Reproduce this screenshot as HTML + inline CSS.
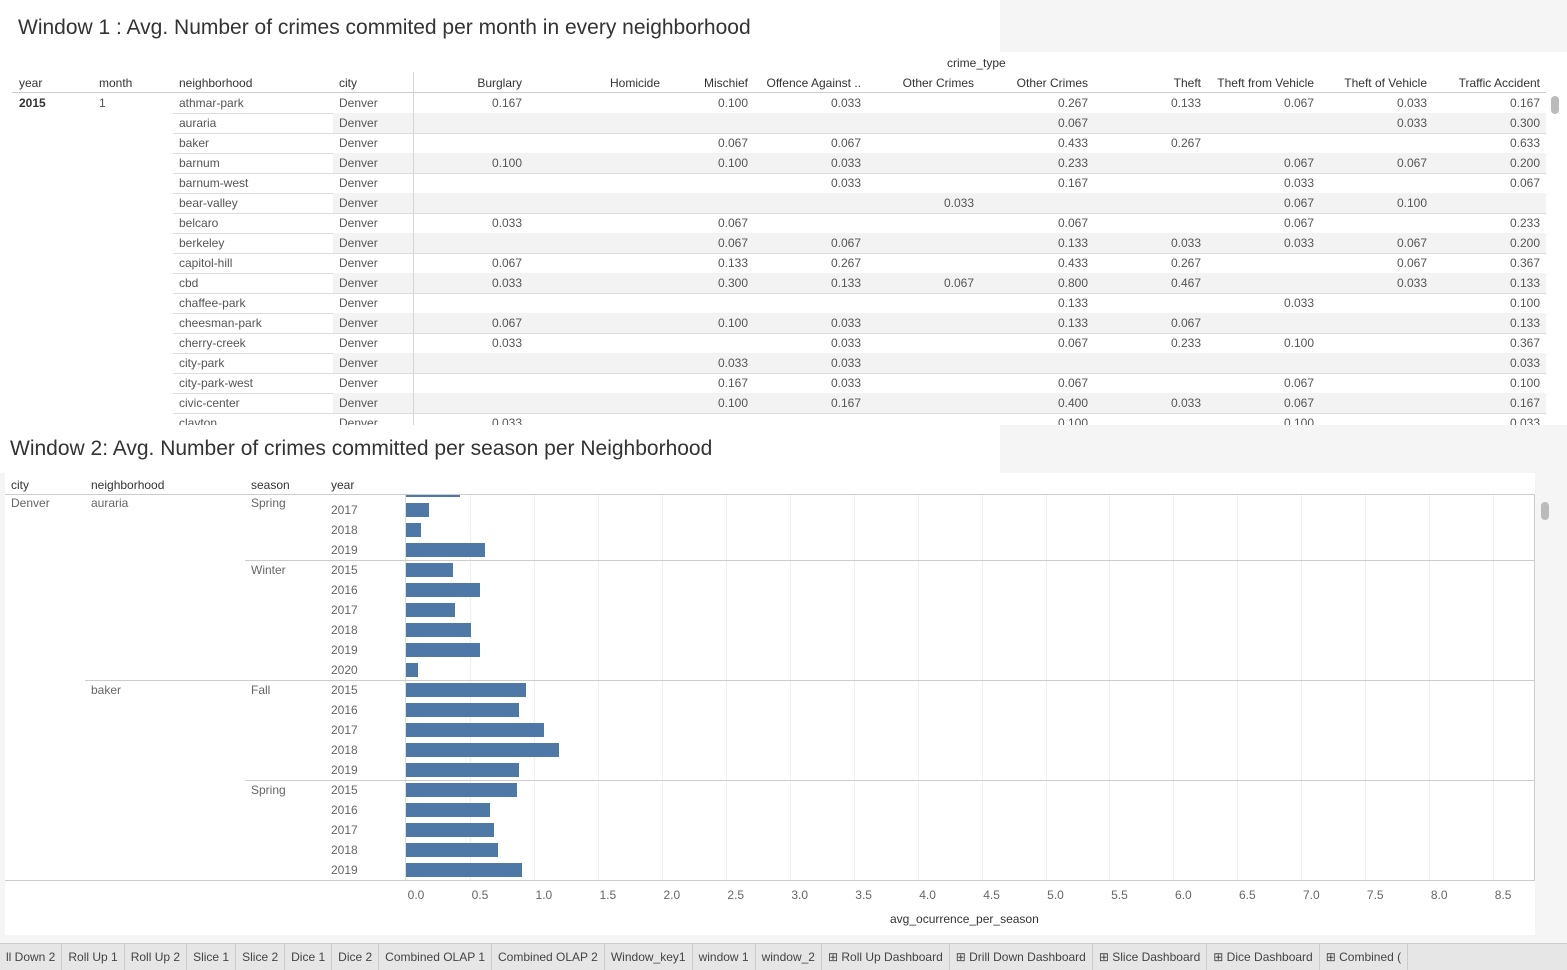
<!DOCTYPE html>
<html><head><meta charset="utf-8">
<style>
*{margin:0;padding:0;box-sizing:border-box}
body{width:1567px;height:970px;overflow:hidden;background:#f5f5f5;font-family:"Liberation Sans",sans-serif;position:relative;color:#555}
.a{position:absolute;white-space:nowrap}
.t{font-size:12px}
.h{color:#333;font-size:12px}
</style></head><body>
<div class="a" style="left:0;top:0;width:1000px;height:52px;background:#fff"></div>
<div class="a" style="left:0;top:52px;width:1567px;height:373px;background:#fff"></div>
<div class="a" style="left:18px;top:16px;font-size:21px;color:#333">Window 1 : Avg. Number of crimes commited per month in every neighborhood</div>
<div class="a" style="left:0;top:425px;width:1000px;height:48px;background:#fff"></div>
<div class="a" style="left:5px;top:473px;width:1530px;height:462px;background:#fff"></div>
<div class="a" style="left:10px;top:437px;font-size:21px;color:#333">Window 2: Avg. Number of crimes committed per season per Neighborhood</div>
<div id="tbl" class="a" style="left:0;top:0;width:1567px;height:425px;overflow:hidden"></div>
<div id="chart" class="a" style="left:0;top:0;width:1567px;height:940px"></div>
<div id="tabs" class="a" style="left:0;top:943px;width:1567px;height:27px;background:#e6e6e6;border-top:1px solid #ccc"></div>
<script>
const cols=["Burglary","Homicide","Mischief","Offence Against ..","Other  Crimes","Other Crimes","Theft","Theft from Vehicle","Theft of Vehicle","Traffic Accident"];
const hoods=["athmar-park","auraria","baker","barnum","barnum-west","bear-valley","belcaro","berkeley","capitol-hill","cbd","chaffee-park","cheesman-park","cherry-creek","city-park","city-park-west","civic-center","clayton"];
const vals=[
[.167,null,.100,.033,null,.267,.133,.067,.033,.167],
[null,null,null,null,null,.067,null,null,.033,.300],
[null,null,.067,.067,null,.433,.267,null,null,.633],
[.100,null,.100,.033,null,.233,null,.067,.067,.200],
[null,null,null,.033,null,.167,null,.033,null,.067],
[null,null,null,null,.033,null,null,.067,.100,null],
[.033,null,.067,null,null,.067,null,.067,null,.233],
[null,null,.067,.067,null,.133,.033,.033,.067,.200],
[.067,null,.133,.267,null,.433,.267,null,.067,.367],
[.033,null,.300,.133,.067,.800,.467,null,.033,.133],
[null,null,null,null,null,.133,null,.033,null,.100],
[.067,null,.100,.033,null,.133,.067,null,null,.133],
[.033,null,null,.033,null,.067,.233,.100,null,.367],
[null,null,.033,.033,null,null,null,null,null,.033],
[null,null,.167,.033,null,.067,null,.067,null,.100],
[null,null,.100,.167,null,.400,.033,.067,null,.167],
[.033,null,null,null,null,.100,null,.100,null,.033]];
const seasonYears=[["Spring","2016"],["Spring","2017"],["Spring","2018"],["Spring","2019"],["Winter","2015"],["Winter","2016"],["Winter","2017"],["Winter","2018"],["Winter","2019"],["Winter","2020"],["Fall","2015"],["Fall","2016"],["Fall","2017"],["Fall","2018"],["Fall","2019"],["Spring","2015"],["Spring","2016"],["Spring","2017"],["Spring","2018"],["Spring","2019"]];
const barHoods=["auraria","auraria","auraria","auraria","auraria","auraria","auraria","auraria","auraria","auraria","baker","baker","baker","baker","baker","baker","baker","baker","baker","baker"];
const barVals=[0.42,0.18,0.12,0.62,0.37,0.58,0.38,0.51,0.58,0.09,0.94,0.88,1.08,1.2,0.88,0.87,0.66,0.69,0.72,0.91];
const ticks=["0.0","0.5","1.0","1.5","2.0","2.5","3.0","3.5","4.0","4.5","5.0","5.5","6.0","6.5","7.0","7.5","8.0","8.5"];
const tabNames=["ll Down 2","Roll Up 1","Roll Up 2","Slice 1","Slice 2","Dice 1","Dice 2","Combined OLAP 1","Combined OLAP 2","Window_key1","window 1","window_2","⊞ Roll Up Dashboard","⊞ Drill Down Dashboard","⊞ Slice Dashboard","⊞ Dice Dashboard","⊞ Combined ("];

function mk(p,cls,style,txt){const d=document.createElement('div');d.className='a '+cls;d.style.cssText=style;if(txt!=null)d.textContent=txt;p.appendChild(d);return d;}
const T=document.getElementById('tbl');
const colR=[522,635,748,861,974,1088,1201,1314,1427,1540];
const rowY=r=>93+r*20;
let e;
e=mk(T,'h','left:947px;top:56px','crime_type');


[["year",19],["month",99],["neighborhood",179],["city",339]].forEach(([n,x])=>{e=mk(T,'h','left:'+x+'px;top:76px',n);

});
mk(T,'','left:12px;top:92px;width:1534px;height:1px;background:#ccc');
hoods.forEach((h,r)=>{
  const y=rowY(r);
  if(r%2==1)mk(T,'','left:333px;top:'+y+'px;width:1213px;height:20px;background:#f3f3f3');
  mk(T,'','left:173px;top:'+(y+20)+'px;width:1373px;height:1px;background:#ddd');
  e=mk(T,'t','left:179px;top:'+(y+3)+'px',h);
  
  
  mk(T,'t','left:339px;top:'+(y+3)+'px','Denver');
  vals[r].forEach((v,c)=>{if(v==null)return;
    e=mk(T,'t','left:'+(colR[c]-60)+'px;width:60px;text-align:right;top:'+(y+3)+'px',v.toFixed(3));
    
    });
});
mk(T,'','left:413px;top:72px;width:1px;height:353px;background:#d4d4d4');
mk(T,'t','left:19px;top:96px;color:#333;font-weight:bold;font-size:12px','2015');
mk(T,'t','left:99px;top:96px','1');
cols.forEach((n,c)=>{const w=c==1?200:140;const st=c==1?'left:'+(635-100)+'px;width:200px;text-align:center':'left:'+(colR[c]-w)+'px;width:'+w+'px;text-align:right';
  e=mk(T,'h',st+';top:76px',n);
  
  });
mk(T,'','left:1551px;top:96px;width:8px;height:18px;border-radius:4px;background:#bbb');
const C=document.getElementById('chart');
const x0=406,sc=127.9;const xs=v=>x0+v*sc;
[["city",11],["neighborhood",91],["season",251],["year",331]].forEach(([n,x])=>{e=mk(C,'h','left:'+x+'px;top:478px',n);

});
const clip=mk(C,'','left:0;top:494px;width:1567px;height:386px;overflow:hidden');
ticks.forEach((t,i)=>{const x=xs(parseFloat(t));
  if(i>0)mk(clip,'','left:'+x+'px;top:0;width:1px;height:386px;background:#efefef');
  e=mk(C,'t','left:'+(x+10-20)+'px;width:40px;text-align:center;top:888px;color:#666',t);
  
  });
mk(clip,'','left:405px;top:0;width:1px;height:386px;background:#ddd');
mk(C,'','left:5px;top:494px;width:1530px;height:1px;background:#ccc');
mk(C,'','left:5px;top:880px;width:1530px;height:1px;background:#ccc');
mk(C,'','left:1534px;top:494px;width:1px;height:386px;background:#ccc');
barVals.forEach((v,i)=>{const cy=490+i*20-494;
  e=mk(clip,'','left:'+x0+'px;top:'+(cy-7)+'px;width:'+(xs(v)-x0)+'px;height:14px;background:#4e79a7');
  
  
  mk(clip,'t','left:331px;top:'+(cy-7)+'px;color:#666',seasonYears[i][1]);
  if(i>0&&(seasonYears[i][0]!=seasonYears[i-1][0]||barHoods[i]!=barHoods[i-1])){
    const l=barHoods[i]!=barHoods[i-1]?85:245;
    mk(clip,'','left:'+l+'px;top:'+(cy-10)+'px;width:'+(1535-l)+'px;height:1px;background:#ccc');
    mk(clip,'t','left:251px;top:'+(cy-7)+'px;color:#666',seasonYears[i][0]);
    if(l==85)mk(clip,'t','left:91px;top:'+(cy-7)+'px;color:#666',barHoods[i]);
  }
});
mk(clip,'','left:0;top:-10px;width:400px;height:10px;background:#fff');
mk(C,'t','left:251px;top:496px;color:#666','Spring');
mk(C,'t','left:91px;top:496px;color:#666','auraria');
mk(C,'t','left:11px;top:496px;color:#666','Denver');
e=mk(C,'h','left:890px;top:912px','avg_ocurrence_per_season');


mk(C,'','left:1541px;top:502px;width:8px;height:18px;border-radius:4px;background:#bbb');
const B=document.getElementById('tabs');
tabNames.forEach(n=>{e=mk(B,'t','display:inline-block;padding:0 6px;height:26px;line-height:26px;border-right:1px solid #ccc;color:#444',n);
  e.style.position='static';
  
  });
B.style.whiteSpace='nowrap';B.style.overflow='hidden';
</script>
</body></html>
